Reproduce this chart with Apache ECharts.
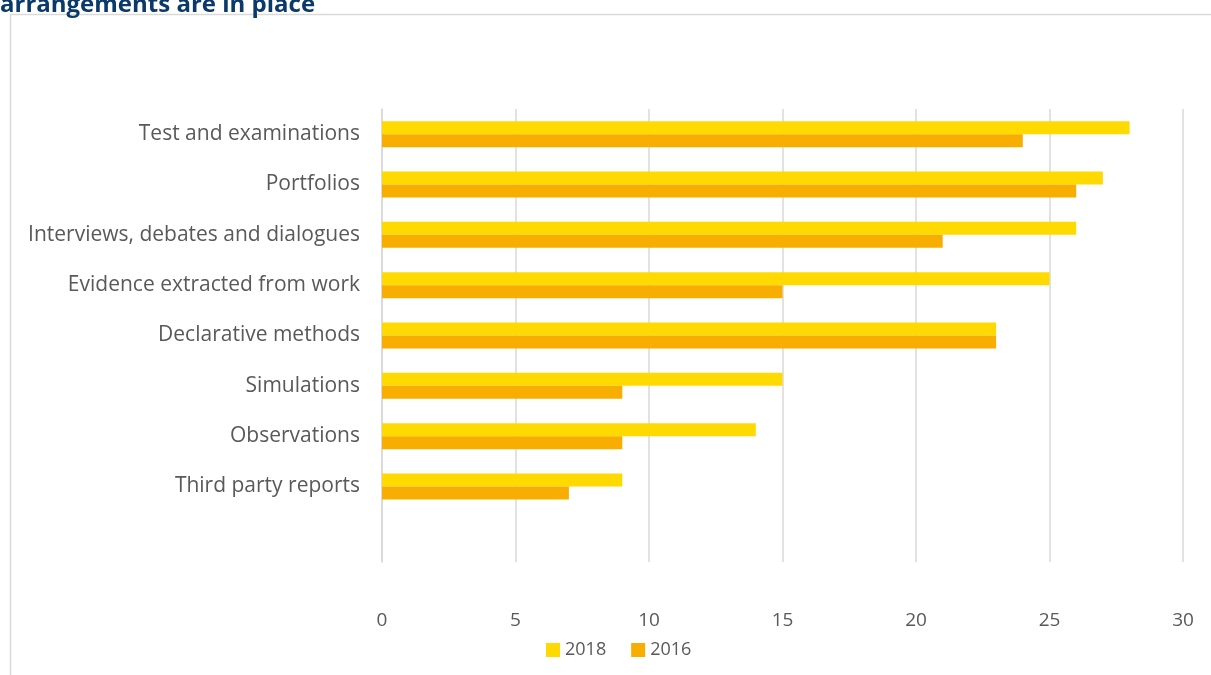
<!DOCTYPE html>
<html>
<head>
<meta charset="utf-8">
<script src="https://cdn.jsdelivr.net/npm/echarts@6/dist/echarts.min.js"></script>
<style>
html,body{margin:0;padding:0;background:#fff;}
#chart{width:1211px;height:675px;}
</style>
</head>
<body>
<div id="chart"></div>
<script>
const titleText = 'arrangements are in place';
const categories = ['Test and examinations','Portfolios','Interviews, debates and dialogues','Evidence extracted from work','Declarative methods','Simulations','Observations','Third party reports'];
const seriesNames = ['2018','2016'];
const values2018 = [28, 27, 26, 25, 23, 15, 14, 9];
const values2016 = [24, 26, 21, 15, 23, 9, 9, 7];
const xTicks = [0, 5, 10, 15, 20, 25, 30];

const FONT = '"Open Sans", "Liberation Sans", Arial, sans-serif';
const chart = echarts.init(document.getElementById('chart'), null, {renderer:'canvas'});
chart.setOption({
  animation:false,
  backgroundColor:'#ffffff',
  graphic:[
    {type:'rect', shape:{x:10.5, y:14.5, width:1230, height:700}, style:{fill:'none', stroke:'#d9d9d9', lineWidth:1.5}, silent:true, z:-1},
    {type:'text', left:0, top:-7, style:{text:titleText, font:'bold 24px ' + FONT, fill:'#0b3a6a'}}
  ],
  legend:{
    data:seriesNames, left:541, top:636, itemWidth:14, itemHeight:14, itemGap:25,
    icon:'rect',
    textStyle:{fontSize:18, color:'#595959', fontFamily:FONT}
  },
  grid:{left:382, right:28, top:109, bottom:113, containLabel:false},
  xAxis:{
    type:'value', min:xTicks[0], max:xTicks[xTicks.length-1], interval:5,
    axisLine:{show:false}, axisTick:{show:false},
    splitLine:{show:true, lineStyle:{color:'#d9d9d9', width:1.5}},
    axisLabel:{margin:49, fontSize:19, color:'#595959', fontFamily:FONT}
  },
  yAxis:{
    type:'category', inverse:true,
    data:categories.concat(['']),
    axisLine:{show:true, lineStyle:{color:'#d9d9d9', width:1.5}}, axisTick:{show:false},
    axisLabel:{margin:22, fontSize:21, color:'#595959', fontFamily:FONT}
  },
  series:[
    {name:seriesNames[0], type:'bar', data:values2018, barWidth:13, barGap:'0%', itemStyle:{color:'#ffda00'}},
    {name:seriesNames[1], type:'bar', data:values2016, barWidth:13, barGap:'0%', itemStyle:{color:'#f8ae00'}}
  ]
});
</script>
</body>
</html>
